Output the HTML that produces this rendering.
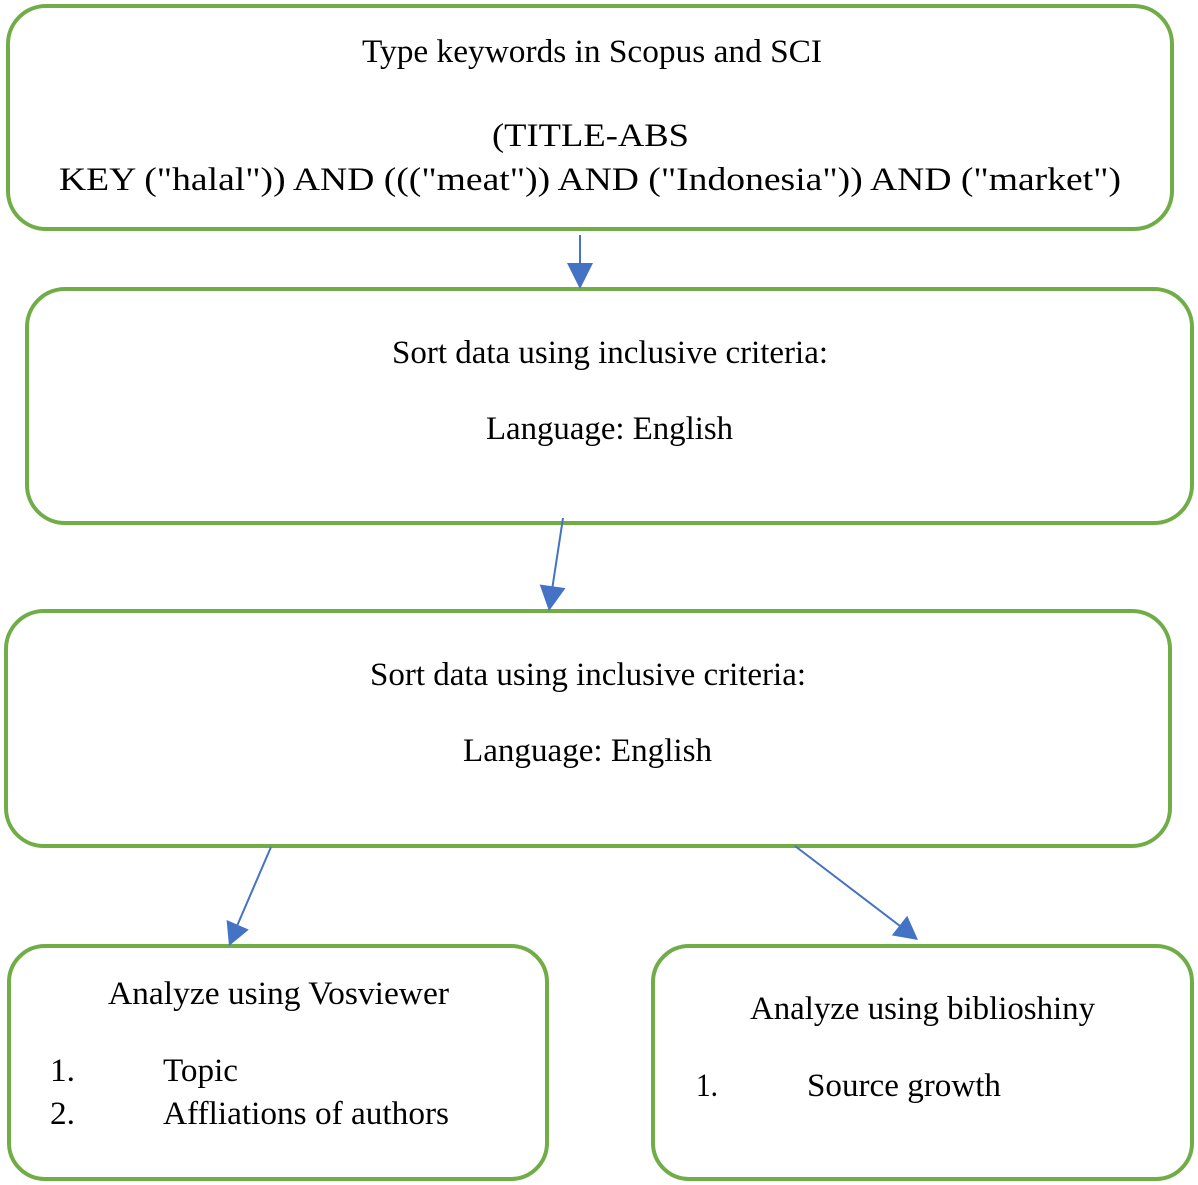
<!DOCTYPE html>
<html>
<head>
<meta charset="utf-8">
<style>
html,body{margin:0;padding:0;background:#fff;}
svg{display:block;}
text{font-family:"Liberation Serif","Times New Roman",serif;font-size:33px;fill:#000;}
</style>
</head>
<body>
<svg width="1198" height="1185" viewBox="0 0 1198 1185" xmlns="http://www.w3.org/2000/svg">
<g fill="none" stroke="#70AD47" stroke-width="4">
<rect x="8" y="6" width="1164" height="223" rx="38" ry="38"/>
<rect x="27" y="289" width="1165" height="234" rx="38" ry="38"/>
<rect x="6" y="611" width="1164" height="235" rx="38" ry="38"/>
<rect x="9" y="946" width="538" height="233" rx="36" ry="36"/>
<rect x="653" y="946" width="539" height="233" rx="36" ry="36"/>
</g>
<g stroke="#4472C4" stroke-width="2" fill="none">
<line x1="580" y1="235" x2="580" y2="266"/>
<line x1="563" y1="518" x2="552" y2="590"/>
<line x1="271" y1="847" x2="237" y2="926"/>
<line x1="795" y1="846" x2="900" y2="926"/>
</g>
<g fill="#4472C4">
<polygon points="567,263 593,263 580,289"/>
<polygon points="539.7,584.5 565.5,588.1 549,611"/>
<polygon points="226.6,920 248.8,929.6 229,946"/>
<polygon points="891.8,935.4 907.2,915.8 918,940"/>
</g>
<text x="362" y="62" textLength="460" lengthAdjust="spacingAndGlyphs">Type keywords in Scopus and SCI</text>
<text x="492" y="146" textLength="197" lengthAdjust="spacingAndGlyphs">(TITLE-ABS</text>
<text x="59" y="190" textLength="1062" lengthAdjust="spacingAndGlyphs">KEY ("halal")) AND ((("meat")) AND ("Indonesia")) AND ("market")</text>

<text x="392" y="363" textLength="436" lengthAdjust="spacingAndGlyphs">Sort data using inclusive criteria:</text>
<text x="486" y="439" textLength="247" lengthAdjust="spacingAndGlyphs">Language: English</text>

<text x="370" y="685" textLength="436" lengthAdjust="spacingAndGlyphs">Sort data using inclusive criteria:</text>
<text x="463" y="761" textLength="249" lengthAdjust="spacingAndGlyphs">Language: English</text>

<text x="108" y="1004" textLength="341" lengthAdjust="spacingAndGlyphs">Analyze using Vosviewer</text>
<text x="50" y="1081" textLength="25" lengthAdjust="spacingAndGlyphs">1.</text>
<text x="163" y="1081" textLength="75" lengthAdjust="spacingAndGlyphs">Topic</text>
<text x="50" y="1124" textLength="25" lengthAdjust="spacingAndGlyphs">2.</text>
<text x="163" y="1124" textLength="286" lengthAdjust="spacingAndGlyphs">Affliations of authors</text>

<text x="750" y="1019" textLength="345" lengthAdjust="spacingAndGlyphs">Analyze using biblioshiny</text>
<text x="696" y="1096" textLength="22" lengthAdjust="spacingAndGlyphs">1.</text>
<text x="807" y="1096" textLength="194" lengthAdjust="spacingAndGlyphs">Source growth</text>
</svg>
</body>
</html>
